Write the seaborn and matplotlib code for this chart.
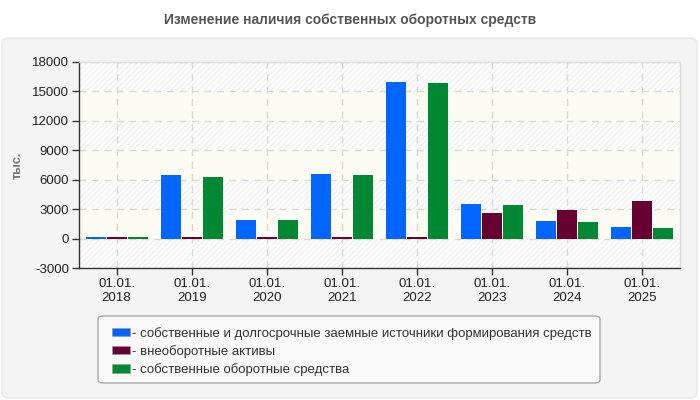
import matplotlib
matplotlib.use("Agg")
import matplotlib.pyplot as plt
import seaborn as sns
import pandas as pd
from matplotlib.patches import FancyBboxPatch, Patch

categories = ["01.01.\n2018", "01.01.\n2019", "01.01.\n2020", "01.01.\n2021",
              "01.01.\n2022", "01.01.\n2023", "01.01.\n2024", "01.01.\n2025"]
series_names = ["собственные и долгосрочные заемные источники формирования средств",
                "внеоборотные активы",
                "собственные оборотные средства"]
own_longterm = [200, 6500, 1900, 6600, 16000, 3550, 1830, 1220]
noncurrent = [200, 200, 200, 200, 200, 2650, 2950, 3860]
own_working = [200, 6300, 1900, 6500, 15900, 3450, 1730, 1120]
colors = ["#0066ff", "#660033", "#008833"]
yticks = [-3000, 0, 3000, 6000, 9000, 12000, 15000, 18000]

rows = []
for name, vals in zip(series_names, [own_longterm, noncurrent, own_working]):
    for c, v in zip(categories, vals):
        rows.append({"date": c, "series": name, "value": v})
df = pd.DataFrame(rows)

sns.set_theme(style="white")
plt.rcParams["font.family"] = ["Liberation Sans", "DejaVu Sans"]
plt.rcParams["hatch.linewidth"] = 0.6

fig = plt.figure(figsize=(7, 4), dpi=100)
fig.patch.set_facecolor("white")

panel = FancyBboxPatch((2 / 700, 2 / 400), 695 / 700, 360 / 400,
                       boxstyle="round,pad=0,rounding_size=0.012",
                       transform=fig.transFigure, facecolor="#f4f4f4",
                       edgecolor="#e6e6e6", linewidth=1, zorder=-10)
fig.patches.append(panel)

fig.text(0.5, 1 - 20 / 400, "Изменение наличия собственных оборотных средств",
         ha="center", va="center", fontsize=10, fontweight="bold", color="#555555")

ax = fig.add_axes([79 / 700, 1 - 268 / 400, 601 / 700, 206 / 400])
ax.set_zorder(2)
ax.set_facecolor("white")
ax.set_ylim(-3000, 18000)
ax.set_xlim(-0.5, 7.5)

# alternating background bands
for i, lo in enumerate(range(-3000, 18000, 3000)):
    if i % 2 == 0:
        ax.axhspan(lo, lo + 3000, facecolor="white", edgecolor="#e6e6e6",
                   hatch="//////", linewidth=0, zorder=0)
    else:
        ax.axhspan(lo, lo + 3000, facecolor="#fcfcf5", edgecolor="none",
                   linewidth=0, zorder=0)

sns.barplot(data=df, x="date", y="value", hue="series", palette=colors,
            order=categories, hue_order=series_names, width=0.84, gap=0.05,
            saturation=1, errorbar=None, ax=ax, legend=False, zorder=3,
            linewidth=0, edgecolor="none")
ax.set_xlim(-0.5, 7.5)
ax.set_ylim(-3000, 18000)

ax.set_yticks(yticks)
ax.set_yticklabels([str(t) for t in yticks])
ax.grid(True, axis="both", linestyle=(0, (5, 4)), color="#d8d8d8", linewidth=1, zorder=1)
ax.set_axisbelow(True)
ax.set_xlabel("")
ax.set_ylabel("тыс.", fontsize=9, fontweight="bold", color="#777777")
ax.yaxis.set_label_coords(-55 / 601, 0.5)

for s in ["left", "bottom"]:
    ax.spines[s].set_color("#333333")
    ax.spines[s].set_linewidth(1)
for s in ["top", "right"]:
    ax.spines[s].set_color("#dddddd")
    ax.spines[s].set_linewidth(1)
ax.tick_params(axis="both", which="both", direction="out", length=5, width=1,
               color="#333333", labelsize=9.5, labelcolor="#222222",
               left=True, bottom=True, pad=2)

# legend box
lb = FancyBboxPatch((98 / 700, 1 - 383 / 400), 502 / 700, 67 / 400,
                    boxstyle="round,pad=0,rounding_size=0.008",
                    transform=fig.transFigure, facecolor="#f9f9f9",
                    edgecolor="#aaaaaa", linewidth=1, zorder=-5)
fig.patches.append(lb)
handles = [Patch(facecolor=c, edgecolor="#999999", linewidth=0.4) for c in colors]
leg = fig.legend(handles, ["- " + n for n in series_names], loc="upper left",
                 bbox_to_anchor=(105 / 700, 1 - 320 / 400), frameon=False,
                 fontsize=9.5, handlelength=1.4, handleheight=0.6,
                 handletextpad=0.15, labelspacing=0.4, borderpad=0,
                 labelcolor="#333333")

fig.savefig("out.png", dpi=100, facecolor="white")
